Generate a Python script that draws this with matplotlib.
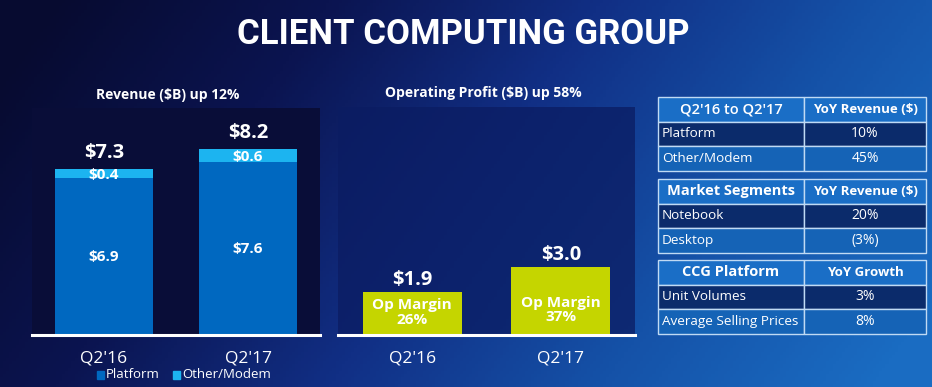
import numpy as np
import matplotlib.pyplot as plt
from matplotlib.colors import LinearSegmentedColormap
from matplotlib.patches import Rectangle

# data
quarters = ["Q2'16", "Q2'17"]
platform = [6.9, 7.6]
other_modem = [0.4, 0.6]
revenue_total = [7.3, 8.2]
op_profit = [1.9, 3.0]
op_margin = ["26%", "37%"]

table_headers = [("Q2'16 to Q2'17", "YoY Revenue ($)"),
                 ("Market Segments", "YoY Revenue ($)"),
                 ("CCG Platform", "YoY Growth")]
table_rows = [[("Platform", "10%"), ("Other/Modem", "45%")],
              [("Notebook", "20%"), ("Desktop", "(3%)")],
              [("Unit Volumes", "3%"), ("Average Selling Prices", "8%")]]

W, H = 932, 387
FONT = 'Open Sans'
plt.rcParams['font.family'] = [FONT, 'DejaVu Sans']

fig = plt.figure(figsize=(W / 100, H / 100), dpi=100)


def px_axes(x0, y0, x1, y1):
    # axes from pixel box (top-left origin)
    return fig.add_axes([x0 / W, 1 - y1 / H, (x1 - x0) / W, (y1 - y0) / H])


# background gradient
bg = fig.add_axes([0, 0, 1, 1])
xx, yy = np.meshgrid(np.linspace(0, 1, 300), np.linspace(0, 1, 120))
t = np.clip(0.85 * xx + 0.25 * yy - 0.05, 0, 1)
cmap = LinearSegmentedColormap.from_list(
    'bg', ['#070b30', '#0b1450', '#112f85', '#1552a8', '#1a6cc2'])
bg.imshow(t, cmap=cmap, extent=[0, 1, 0, 1], aspect='auto', origin='upper')
bg.axis('off')

fig.text(463 / W, 1 - 35 / H, "CLIENT COMPUTING GROUP", ha='center', va='center',
         color='white', fontsize=25, fontweight='bold', family=['Roboto', 'DejaVu Sans'])

c_plat = '#0068c0'
c_other = '#1cb4f0'
c_lime = '#c5d500'

# revenue chart
ax1 = px_axes(32, 108, 320, 335)
ax1.set_facecolor('#090d38')
x = np.arange(len(quarters))
ax1.bar(x, platform, width=0.68, color=c_plat)
ax1.bar(x, other_modem, bottom=platform, width=0.68, color=c_other)
ax1.set_xlim(-0.5, 1.5)
ax1.set_ylim(0, 10)
for i in x:
    ax1.text(i, platform[i] / 2, f"${platform[i]:.1f}", ha='center', va='center',
             color='white', fontsize=11, fontweight='bold')
    ax1.text(i, platform[i] + other_modem[i] / 2 - 0.05, f"${other_modem[i]:.1f}",
             ha='center', va='center', color='white', fontsize=11, fontweight='bold')
    ax1.text(i, revenue_total[i] + 0.72, f"${revenue_total[i]:.1f}", ha='center',
             va='center', color='white', fontsize=14.5, fontweight='bold')
ax1.axhline(0, color='white', lw=2.2, clip_on=False)
for s in ax1.spines.values():
    s.set_visible(False)
ax1.set_yticks([])
ax1.set_xticks(x)
ax1.set_xticklabels(quarters, color='white', fontsize=12.5)
ax1.tick_params(axis='x', length=0, pad=11)
fig.text(168 / W, 1 - 95 / H, "Revenue ($B) up 12%", ha='center', va='center',
         color='white', fontsize=10, fontweight='bold')

# legend
for lx, col, lab in [(97, c_plat, "Platform"), (173, c_other, "Other/Modem")]:
    fig.patches.append(Rectangle((lx / W, 1 - 379 / H), 7 / W, 8 / H,
                                 transform=fig.transFigure, color=col))
    fig.text((lx + 9) / W, 1 - 375 / H, lab, color='white', fontsize=9.5,
             va='center', ha='left')

# operating profit chart
ax2 = px_axes(338, 107, 635, 335)
ax2.set_facecolor('#0b1c62')
ax2.patch.set_alpha(0.75)
ax2.bar(x, op_profit, width=0.67, color=c_lime)
ax2.set_xlim(-0.5, 1.5)
ax2.set_ylim(0, 10)
margin_y = [0.98, 1.1]
for i in x:
    ax2.text(i, op_profit[i] + 0.52, f"${op_profit[i]:.1f}", ha='center',
             va='center', color='white', fontsize=14.5, fontweight='bold')
    ax2.text(i, margin_y[i], f"Op Margin\n{op_margin[i]}", ha='center',
             va='center', color='white', fontsize=11, fontweight='bold',
             linespacing=1.05)
ax2.axhline(0, color='white', lw=2.2, clip_on=False)
for s in ax2.spines.values():
    s.set_visible(False)
ax2.set_yticks([])
ax2.set_xticks(x)
ax2.set_xticklabels(quarters, color='white', fontsize=12.5)
ax2.tick_params(axis='x', length=0, pad=11)
fig.text(483 / W, 1 - 93 / H, "Operating Profit ($B) up 58%", ha='center',
         va='center', color='white', fontsize=10, fontweight='bold')

# tables
ax3 = px_axes(655, 94, 929, 336)
ax3.set_xlim(655, 929)
ax3.set_ylim(336, 94)
ax3.axis('off')
tx0, tsplit, tx1 = 658, 804, 926
tops = [97, 179, 260]
rh = 24.5
c_head = '#1a6ec6'
row_cols = ['#0b2b6b', '#1563b6']
edge = '#c0daf4'
for k in range(3):
    top = tops[k]
    rows = [table_headers[k]] + table_rows[k]
    for r, (a, b) in enumerate(rows):
        y = top + r * rh
        col = c_head if r == 0 else row_cols[r - 1]
        ax3.add_patch(Rectangle((tx0, y), tsplit - tx0, rh, facecolor=col,
                                edgecolor=edge, lw=1))
        ax3.add_patch(Rectangle((tsplit, y), tx1 - tsplit, rh, facecolor=col,
                                edgecolor=edge, lw=1))
        if r == 0:
            wa = 'semibold' if k == 0 else 'bold'
            ax3.text((tx0 + tsplit) / 2, y + rh / 2, a, ha='center', va='center',
                     color='white', fontsize=10.5, fontweight=wa)
            ax3.text((tsplit + tx1) / 2, y + rh / 2, b, ha='center', va='center',
                     color='white', fontsize=9.5, fontweight='bold')
        else:
            ax3.text(tx0 + 4, y + rh / 2, a, ha='left', va='center',
                     color='white', fontsize=9.7)
            ax3.text((tsplit + tx1) / 2, y + rh / 2, b, ha='center', va='center',
                     color='white', fontsize=10)

fig.savefig('out.png', dpi=100)
